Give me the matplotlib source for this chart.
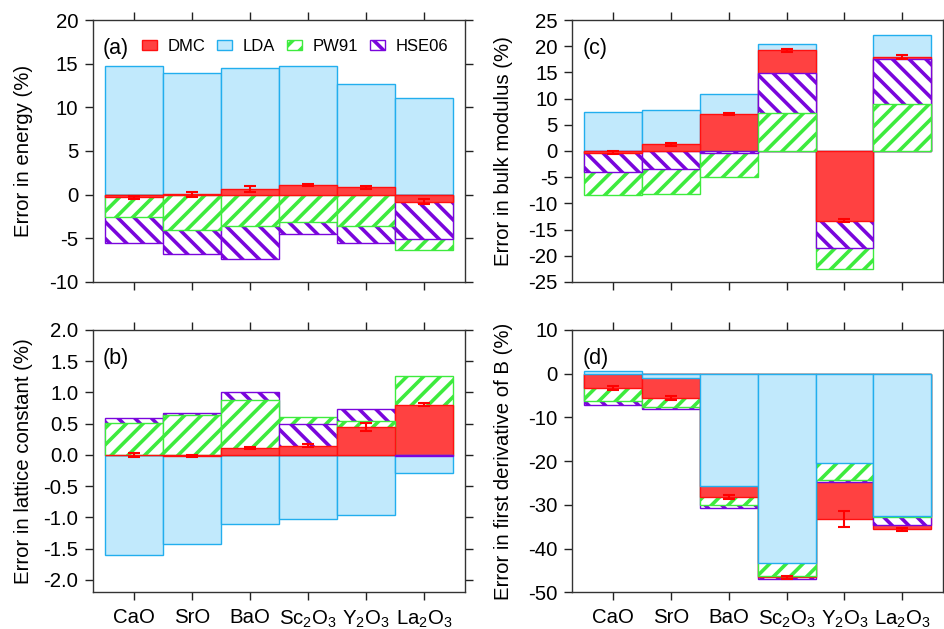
"""
Four-panel overlaid bar chart: DMC / LDA / PW91 / HSE06 errors for six oxides.
"""
import numpy as np
import matplotlib.pyplot as plt
from matplotlib.patches import Patch

plt.rcParams['font.family'] = ['Liberation Sans', 'DejaVu Sans']
plt.rcParams['mathtext.default'] = 'regular'
plt.rcParams['hatch.linewidth'] = 2.6

compounds = ['CaO', 'SrO', 'BaO', 'Sc$_2$O$_3$', 'Y$_2$O$_3$', 'La$_2$O$_3$']

# (a) cohesive energy
energy_dmc = [-0.3, 0.05, 0.65, 1.1, 0.85, -0.8]
energy_dmc_err = [0.2, 0.3, 0.3, 0.15, 0.15, 0.3]
energy_lda = [14.7, 13.9, 14.5, 14.75, 12.7, 11.1]
energy_pw91 = [-2.55, -4.0, -3.55, -3.15, -3.55, -6.35]
energy_hse = [-5.55, -6.8, -7.35, -4.55, -5.55, -5.05]

# (b) lattice constant
latt_dmc = [0.0, -0.02, 0.11, 0.15, 0.45, 0.805]
latt_dmc_err = [0.03, 0.02, 0.02, 0.02, 0.065, 0.025]
latt_lda = [-1.605, -1.42, -1.11, -1.025, -0.965, -0.283]
latt_pw91 = [0.507, 0.635, 0.88, 0.603, 0.544, 1.259]
latt_hse = [0.597, 0.667, 1.003, 0.501, 0.741, -0.02]

# (c) bulk modulus
bulk_dmc = [-0.3, 1.3, 7.06, 19.2, -13.3, 17.95]
bulk_dmc_err = [0.3, 0.3, 0.25, 0.25, 0.3, 0.3]
bulk_lda = [7.44, 7.9, 10.94, 20.36, np.nan, 22.2]
bulk_pw91 = [-8.46, -8.27, -5.03, 7.25, -22.6, 8.97]
bulk_hse = [-4.0, -3.37, -0.3, 14.89, -18.45, 17.56]

# (d) pressure derivative of the bulk modulus
bprime_dmc = [-3.3, -5.6, -28.2, -46.6, -33.3, -35.6]
bprime_dmc_err = [0.5, 0.4, 0.4, 0.3, 1.8, 0.4]
bprime_lda = [0.67, -1.0, -25.7, -43.4, -20.4, -32.6]
bprime_pw91 = [-6.2, -7.7, -30.0, -46.2, -24.2, -32.8]
bprime_hse = [-7.1, -8.0, -30.6, -47.0, -24.8, -34.7]

styles = {
    'DMC': dict(facecolor='#FF4141', edgecolor='#FF1010', hatch=None),
    'LDA': dict(facecolor='#C1E9FC', edgecolor='#22AEEE', hatch=None),
    'PW91': dict(facecolor='white', edgecolor='#3EEB3E', hatch='//'),
    'HSE06': dict(facecolor='white', edgecolor='#7A05DC', hatch='\\\\'),
}

panels = [
    ('(a)', 'Error in energy (%)', (-10, 20), np.arange(-10, 21, 5), '{:.0f}',
     [0.0985, 0.5517, 0.394, 0.4165],
     {'DMC': energy_dmc, 'LDA': energy_lda, 'PW91': energy_pw91, 'HSE06': energy_hse}, energy_dmc_err),
    ('(b)', 'Error in lattice constant (%)', (-2.2, 2.0), np.arange(-2.0, 2.01, 0.5), '{:.1f}',
     [0.0985, 0.0583, 0.394, 0.4171],
     {'DMC': latt_dmc, 'LDA': latt_lda, 'PW91': latt_pw91, 'HSE06': latt_hse}, latt_dmc_err),
    ('(c)', 'Error in bulk modulus (%)', (-25, 25), np.arange(-25, 26, 5), '{:.0f}',
     [0.6063, 0.5517, 0.3925, 0.4165],
     {'DMC': bulk_dmc, 'LDA': bulk_lda, 'PW91': bulk_pw91, 'HSE06': bulk_hse}, bulk_dmc_err),
    ('(d)', 'Error in first derivative of B (%)', (-50, 10), np.arange(-50, 11, 10), '{:.0f}',
     [0.6063, 0.0583, 0.3925, 0.4171],
     {'DMC': bprime_dmc, 'LDA': bprime_lda, 'PW91': bprime_pw91, 'HSE06': bprime_hse}, bprime_dmc_err),
]

FS = 14.7

fig = plt.figure(figsize=(9.44, 6.29), dpi=100)
x = np.arange(len(compounds))

for i, (tag, ylab, ylim, yticks, fmt, pos, data, err) in enumerate(panels):
    ax = fig.add_axes(pos)
    # bars are overlaid: per compound the largest magnitude goes to the back
    for j in range(len(compounds)):
        vals = {m: data[m][j] for m in data if not np.isnan(data[m][j])}
        order = sorted(vals, key=lambda m: -abs(vals[m]))
        for rank, m in enumerate(order):
            st = styles[m]
            ax.bar(x[j], vals[m], width=1.0, facecolor=st['facecolor'], edgecolor=st['edgecolor'],
                   hatch=st['hatch'], linewidth=1.0, zorder=2 + rank)
    ax.errorbar(x, data['DMC'], yerr=err, fmt='none', ecolor='#FF0000', elinewidth=1.5,
                capsize=4, capthick=1.5, zorder=10)

    ax.set_xlim(-0.7, 5.7)
    ax.set_ylim(*ylim)
    ax.set_yticks(yticks)
    ax.set_yticklabels([fmt.format(v) for v in yticks])
    ax.set_xticks(x)
    if i in (1, 3):
        ax.set_xticklabels(compounds)
    else:
        ax.set_xticklabels([])
    ax.tick_params(direction='out', length=6, width=1, top=True, right=True,
                   labelsize=FS, colors='#222222', labelcolor='black')
    ax.tick_params(axis='y', pad=4.5)
    ax.tick_params(axis='x', pad=5.5)
    for sp in ax.spines.values():
        sp.set_linewidth(1.0)
        sp.set_color('#333333')
    ax.set_ylabel(ylab, fontsize=FS)
    ax.yaxis.set_label_coords(-0.16, 0.5)
    ax.text(0.027, 0.89, tag, transform=ax.transAxes, fontsize=15.5, va='center', ha='left')

    if i == 0:
        handles = [Patch(facecolor=styles[m]['facecolor'], edgecolor=styles[m]['edgecolor'],
                         hatch=styles[m]['hatch'], linewidth=1.0, label=m)
                   for m in ['DMC', 'LDA', 'PW91', 'HSE06']]
        ax.legend(handles=handles, loc='center left', bbox_to_anchor=(0.131, 0.9), ncol=4,
                  frameon=False, fontsize=12, handlelength=0.9, handleheight=0.6,
                  handletextpad=0.65, columnspacing=0.7, borderaxespad=0.0, borderpad=0.0)

fig.savefig('out.png', dpi=100)
